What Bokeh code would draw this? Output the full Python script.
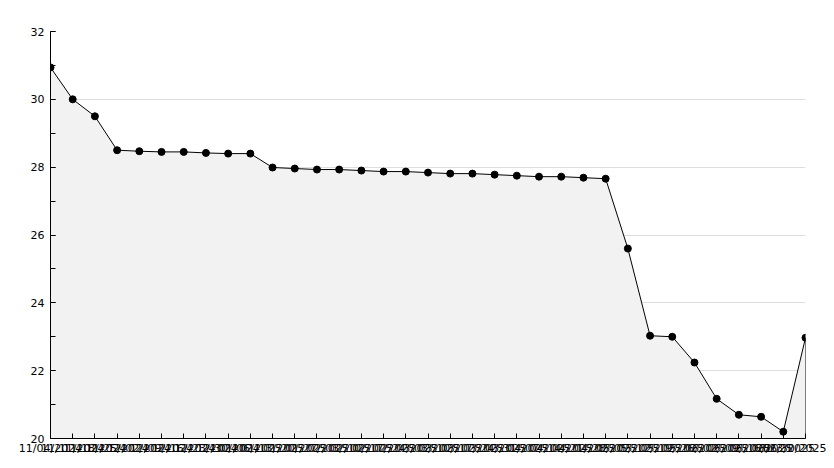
from bokeh.plotting import figure
from bokeh.models import ColumnDataSource, SingleIntervalTicker, FixedTicker, Range1d
from bokeh.embed import file_html
from bokeh.resources import INLINE

dates = ["11/04/2024", "11/11/2024", "11/18/2024", "11/25/2024", "12/02/2024",
         "12/09/2024", "12/16/2024", "12/23/2024", "12/30/2024", "01/06/2025",
         "01/13/2025", "01/20/2025", "01/27/2025", "02/03/2025", "02/10/2025",
         "02/17/2025", "02/24/2025", "03/03/2025", "03/10/2025", "03/17/2025",
         "03/24/2025", "03/31/2025", "04/07/2025", "04/14/2025", "04/21/2025",
         "04/28/2025", "05/05/2025", "05/12/2025", "05/19/2025", "05/26/2025",
         "06/02/2025", "06/09/2025", "06/16/2025", "06/23/2025", "06/30/2025"]
values = [30.94, 30.0, 29.5, 28.5, 28.47, 28.45, 28.45, 28.42, 28.4, 28.4,
          27.99, 27.96, 27.93, 27.93, 27.9, 27.87, 27.87, 27.84, 27.81, 27.81,
          27.78, 27.75, 27.72, 27.72, 27.69, 27.66, 25.6, 23.03, 23.0, 22.24,
          21.17, 20.7, 20.64, 20.2, 22.97]
y_min, y_max = 20, 32

xs = list(range(len(values)))
src = ColumnDataSource(dict(x=xs, y=values, base=[y_min] * len(values)))

p = figure(width=826, height=460, output_backend="svg", toolbar_location=None,
           x_range=Range1d(0, len(values) - 1), y_range=Range1d(y_min, y_max),
           min_border_left=50, min_border_right=21, min_border_top=31, min_border_bottom=22)
p.outline_line_color = None
p.background_fill_color = "white"
p.border_fill_color = "white"

p.varea(x="x", y1="base", y2="y", source=src, fill_color="#f2f2f2")
p.line(x="x", y="y", source=src, line_color="black", line_width=1)
p.segment(x0=[xs[-1]], y0=[values[-1]], x1=[xs[-1]], y1=[y_min], line_color="black", line_width=1)
p.scatter(x="x", y="y", source=src, marker="circle", size=7, fill_color="black", line_color="black")

p.xaxis.ticker = FixedTicker(ticks=xs)
p.xaxis.major_label_overrides = {i: d for i, d in enumerate(dates)}
p.yaxis.ticker = SingleIntervalTicker(interval=2, num_minor_ticks=2)

for ax in (p.xaxis, p.yaxis):
    ax.axis_line_color = "black"
    ax.axis_line_width = 1
    ax.major_tick_in = 5
    ax.major_tick_out = 0
    ax.minor_tick_in = 5
    ax.minor_tick_out = 0
    ax.major_tick_line_color = "black"
    ax.minor_tick_line_color = "black"
    ax.major_label_text_font = "DejaVu Sans"
    ax.major_label_text_font_size = "11px"
    ax.major_label_text_color = "black"
p.xaxis.minor_tick_line_color = None
p.yaxis.major_label_standoff = 6
p.xaxis.major_label_standoff = 3

p.xgrid.grid_line_color = None
p.ygrid.grid_line_color = "#dddddd"
p.ygrid.grid_line_width = 1

open("out.html", "w").write(file_html(p, INLINE))
